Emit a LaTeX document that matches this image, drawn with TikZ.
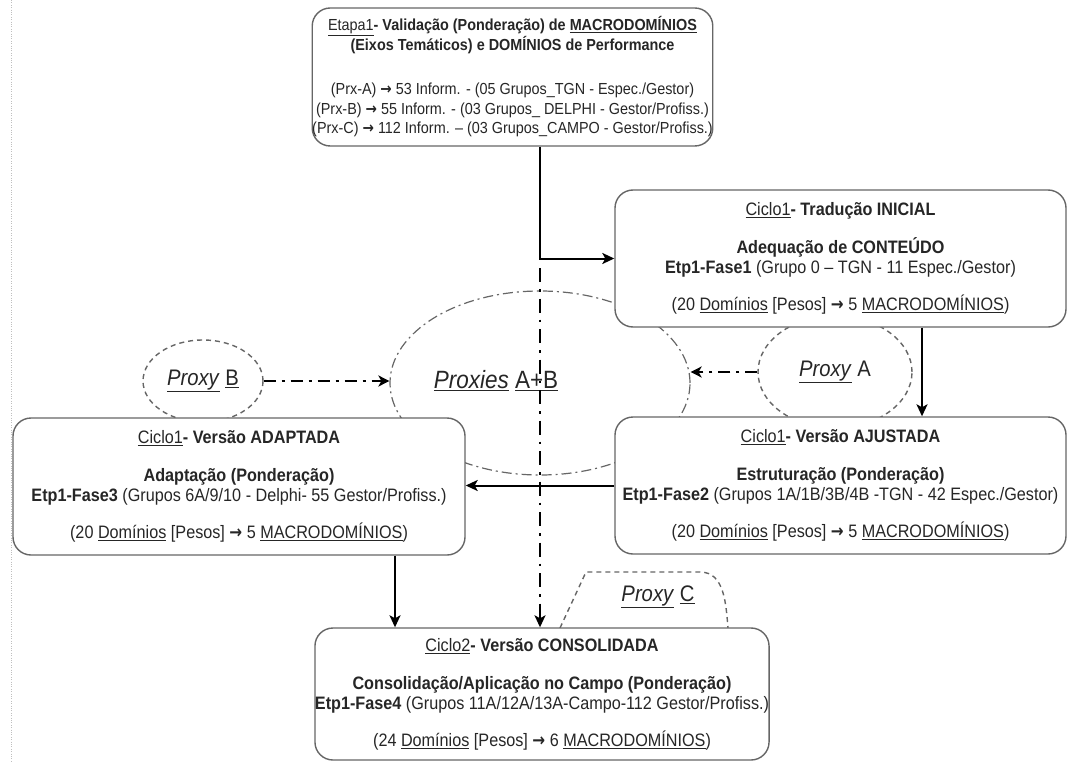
\documentclass[tikz,border=0pt]{standalone}
\usepackage{fontspec}
\setmainfont{Liberation Sans}[FakeStretch=0.9]
\newfontfamily\arrowfont{DejaVu Sans}[FakeStretch=0.85]
\newcommand\rarr{{\arrowfont\bfseries →}}
\usetikzlibrary{arrows.meta,shapes.geometric}

\begin{document}
\begin{tikzpicture}[x=1pt,y=-1pt,
	box/.style={draw=black!60, line width=1.4pt, rounded corners=18pt, fill=white, text=black!85, align=center, minimum height=137pt, inner sep=0pt, font=\fontsize{18}{20}\selectfont},
	flow/.style={line width=2pt, -{Stealth[length=12pt,width=11pt,inset=3pt]}},
	axis/.style={line width=2pt, dash pattern=on 14pt off 7pt on 2.5pt off 7pt, -{Stealth[length=12pt,width=11pt,inset=3pt]}},
	proxyarrow/.style={line width=2.6pt, dash pattern=on 12pt off 6pt on 3pt off 6pt, -{Stealth[length=11pt,width=11pt,inset=3pt]}},
	ring/.style={ellipse, draw=black!60, line width=1.4pt, dash pattern=on 5pt off 4pt, inner sep=0pt, text=black!85, font=\fontsize{22.5}{26}\selectfont},
	bigring/.style={ellipse, draw=black!60, line width=1.2pt, dash pattern=on 10pt off 4pt on 2pt off 4pt, inner sep=0pt}]
	\useasboundingbox (0,0) rectangle (1067,762);
	\draw[black!25, dotted] (11,0) -- (11,762);
	\node[bigring, minimum width=300pt, minimum height=184pt] (abring) at (540,383) {};
	\node[ring, minimum width=154pt, minimum height=112pt] (pa) at (835,372) {\underline{\textit{Proxy}} A};
	\node[ring, minimum width=120pt, minimum height=82pt] (pb) at (203,381) {\underline{\textit{Proxy}} \underline{B}};
	\draw[black!60, line width=1.4pt, dash pattern=on 5pt off 4pt] (560,628) -- (586,572) -- (700,572) to[out=0,in=95] (728,628);
	\node[text=black!85, font=\fontsize{22.5}{26}\selectfont] (pc) at (658,597) {\underline{\textit{Proxy}} \underline{C}};
	\node[text=black!85, font=\fontsize{25}{29}\selectfont] (ablabel) at (496,381) {\underline{\textit{Proxies}} \underline{A+B}};
	\node[box, minimum width=395pt, minimum height=138pt, font=\fontsize{16}{19.5}\selectfont] (top) at (512.5,77) {\underline{Etapa1}\textbf{- Validação (Ponderação) de \underline{MACRODOMÍNIOS}}\\
		\textbf{(Eixos Temáticos) e DOMÍNIOS de Performance}\\[25pt]
		(Prx-A) \rarr{} 53 Inform. - (05 Grupos\_TGN - Espec./Gestor)\\
		(Prx-B) \rarr{} 55 Inform. - (03 Grupos\_ DELPHI - Gestor/Profiss.)\\
		(Prx-C) \rarr{} 112 Inform. – (03 Grupos\_CAMPO - Gestor/Profiss.)};
	\node[box, minimum width=451pt] (inicial) at (840.5,258.5) {\underline{Ciclo1}\textbf{- Tradução INICIAL}\\[18pt]
		\textbf{Adequação de CONTEÚDO}\\
		\textbf{Etp1-Fase1} (Grupo 0 – TGN - 11 Espec./Gestor)\\[17pt]
		(20 \underline{Domínios} [Pesos] \rarr{} 5 \underline{MACRODOMÍNIOS})};
	\node[box, minimum width=451pt] (ajustada) at (840.5,485.5) {\underline{Ciclo1}\textbf{- Versão AJUSTADA}\\[18pt]
		\textbf{Estruturação (Ponderação)}\\
		\textbf{Etp1-Fase2} (Grupos 1A/1B/3B/4B -TGN - 42 Espec./Gestor)\\[17pt]
		(20 \underline{Domínios} [Pesos] \rarr{} 5 \underline{MACRODOMÍNIOS})};
	\node[box, minimum width=452pt] (adaptada) at (239,486.5) {\underline{Ciclo1}\textbf{- Versão ADAPTADA}\\[18pt]
		\textbf{Adaptação (Ponderação)}\\
		\textbf{Etp1-Fase3} (Grupos 6A/9/10 - Delphi- 55 Gestor/Profiss.)\\[17pt]
		(20 \underline{Domínios} [Pesos] \rarr{} 5 \underline{MACRODOMÍNIOS})};
	\node[box, minimum width=450pt, minimum height=132pt] (consolidada) at (542,694) {\underline{Ciclo2}\textbf{- Versão CONSOLIDADA}\\[18pt]
		\textbf{Consolidação/Aplicação no Campo (Ponderação)}\\
		\textbf{Etp1-Fase4} (Grupos 11A/12A/13A-Campo-112 Gestor/Profiss.)\\[17pt]
		(24 \underline{Domínios} [Pesos] \rarr{} 6 \underline{MACRODOMÍNIOS})};
	\coordinate (ax) at (540,268);
	\draw[flow] (top.south -| ax) |- (inicial.west);
	\draw[axis] (ax) -- (ax |- consolidada.north);
	\draw[flow] ([xshift=81.5pt]inicial.south) -- ([xshift=81.5pt]ajustada.north);
	\draw[flow] (ajustada.west) -- (adaptada.east |- ajustada.west);
	\draw[flow] ([xshift=156pt]adaptada.south) -- ([xshift=156pt]adaptada.south |- consolidada.north);
	\draw[proxyarrow] (pb.east) -- (pb.east -| abring.west);
	\draw[proxyarrow] (pa.west) -- (pa.west -| abring.east);
\end{tikzpicture}
\end{document}
